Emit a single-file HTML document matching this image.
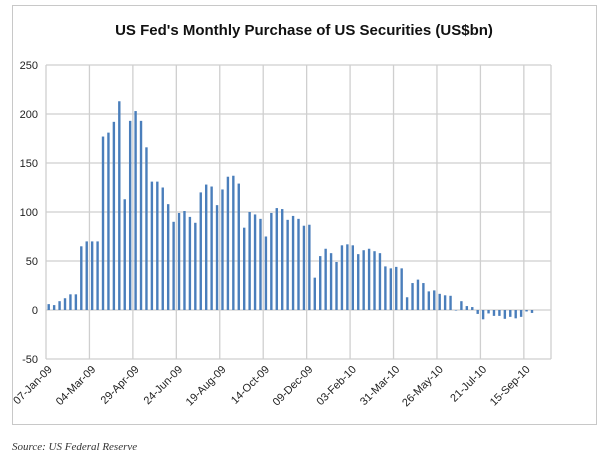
<!DOCTYPE html>
<html><head><meta charset="utf-8"><style>
body{margin:0;background:#fff;width:603px;height:458px;overflow:hidden}
svg{display:block;font-family:"Liberation Sans",sans-serif}
</style></head><body>
<svg width="603" height="458">
<rect x="12.5" y="5.5" width="584" height="419" fill="#fff" stroke="#c8c8c8"/>
<text x="304" y="35" text-anchor="middle" font-size="15" font-weight="bold" fill="#111">US Fed's Monthly Purchase of US Securities (US$bn)</text>
<g id="grid"></g>
<g id="bars"></g>
<g id="yax"></g>
<g id="xax"></g>
<text x="12" y="450" font-family="Liberation Serif,serif" font-style="italic" font-size="11" fill="#333">Source: US Federal Reserve</text>
</svg>
<script>
const values=[6,5,9,12,16,16,65,70,70,70,177,181,192,213,113,193,203,193,166,131,131,125,108,90,99,101,95,89,120,128,126,107,123,136,137,129,84,100,97.5,93,75,99,104,103,92,96,93,86,87,33,55,62.5,58,49,66,67,66,57,61,62.5,60,58,44.5,42.5,44,42.5,13,27.5,31,27.5,19,20,16.5,15,14.5,-0.5,9,4,3,-4,-9.5,-3.5,-6,-6,-9,-7,-8.5,-7,-1.5,-3];
const xLabels=["07-Jan-09","04-Mar-09","29-Apr-09","24-Jun-09","19-Aug-09","14-Oct-09","09-Dec-09","03-Feb-10","31-Mar-10","26-May-10","21-Jul-10","15-Sep-10"];
const yTicks=[-50,0,50,100,150,200,250];
const NC=93, X0=46, X1=551, Y0=310, PPU=0.98;
const bw=(X1-X0)/NC;
const ns="http://www.w3.org/2000/svg";
function mk(t,a,p){const e=document.createElementNS(ns,t);for(const k in a)e.setAttribute(k,a[k]);p.appendChild(e);return e;}
const y=v=>Y0-v*PPU, xc=i=>X0+(i+0.5)*bw;
const g=document.getElementById('grid'),b=document.getElementById('bars'),ya=document.getElementById('yax'),xa=document.getElementById('xax');
yTicks.forEach(t=>{const l=mk('line',{x1:X0,x2:X1,y1:y(t),y2:y(t),stroke:'#cfcfcf','stroke-width':1.3},g);


const tx=mk('text',{x:38,y:y(t)+4,'text-anchor':'end','font-size':11,fill:'#222'},ya);tx.textContent=t;

});
for(let k=0;k<=NC;k+=8){const xx=X0+k*bw;const l=mk('line',{x1:xx,x2:xx,y1:y(250),y2:y(-50),stroke:'#cfcfcf','stroke-width':1.3},g);

}
mk('line',{x1:X1,x2:X1,y1:y(250),y2:y(-50),stroke:'#cfcfcf','stroke-width':1.3},g);
values.forEach((v,i)=>{const r=mk('rect',{x:xc(i)-1.2,y:Math.min(y(v),y(0)),width:2.4,height:Math.max(Math.abs(v)*PPU,0.5),fill:'#4a7ebb'},b);

});
xLabels.forEach((s,k)=>{const xx=xc(k*8)+4,yy=370;const t=mk('text',{x:xx,y:yy,'text-anchor':'end','font-size':11,fill:'#222',transform:`rotate(-45 ${xx} ${yy})`},xa);t.textContent=s;

});
</script>
</body></html>
